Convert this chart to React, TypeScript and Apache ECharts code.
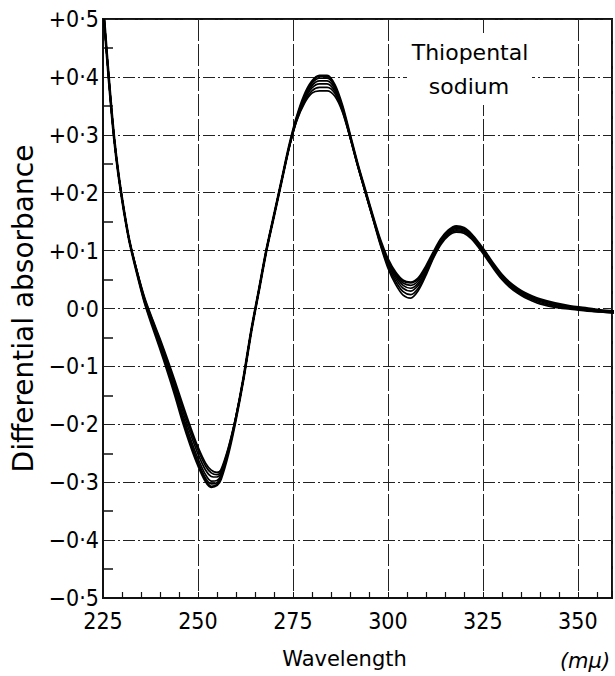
import React, { useEffect, useRef } from "react";
import * as echarts from "echarts";

const wavelengths = [
  225.3, 226, 227, 228, 229, 230, 231, 232,
  234, 236, 238, 240, 242, 244, 246, 248, 250, 252,
  253.5, 255, 256, 258, 260, 262, 264, 266, 268, 270,
  272, 274, 276, 278, 280, 282, 284, 286, 288, 290,
  292, 294, 296, 298, 300, 302, 304, 306, 308, 310,
  312, 314, 316, 318, 320, 322, 324, 326, 328, 330,
  332, 334, 336, 338, 340, 344, 348, 352, 356, 360,
];

const run1 = [
  0.5, 0.44, 0.36, 0.29, 0.235, 0.19, 0.15, 0.115,
  0.06, 0.01, -0.03, -0.068, -0.108, -0.15, -0.195, -0.235, -0.27, -0.298,
  -0.308, -0.305, -0.295, -0.25, -0.19, -0.12, -0.04, 0.03, 0.1, 0.16,
  0.22, 0.28, 0.33, 0.368, 0.392, 0.402, 0.402, 0.386, 0.35, 0.3,
  0.25, 0.205, 0.16, 0.118, 0.085, 0.062, 0.048, 0.045, 0.052, 0.072,
  0.097, 0.12, 0.135, 0.142, 0.139, 0.128, 0.112, 0.094, 0.075, 0.058,
  0.045, 0.035, 0.027, 0.021, 0.016, 0.009, 0.004, 0.001, -0.003, -0.005,
];
const run2 = [
  0.5, 0.44, 0.36, 0.29, 0.235, 0.19, 0.15, 0.115,
  0.06, 0.01, -0.028, -0.065, -0.105, -0.146, -0.19, -0.23, -0.265, -0.293,
  -0.303, -0.301, -0.292, -0.248, -0.19, -0.12, -0.04, 0.03, 0.1, 0.16,
  0.22, 0.28, 0.33, 0.366, 0.389, 0.398, 0.398, 0.384, 0.349, 0.3,
  0.25, 0.205, 0.16, 0.117, 0.083, 0.059, 0.044, 0.04, 0.048, 0.069,
  0.095, 0.119, 0.134, 0.14, 0.138, 0.127, 0.111, 0.093, 0.074, 0.057,
  0.044, 0.034, 0.026, 0.02, 0.015, 0.008, 0.003, 0.0, -0.004, -0.006,
];
const run3 = [
  0.5, 0.44, 0.36, 0.29, 0.235, 0.19, 0.15, 0.115,
  0.06, 0.012, -0.026, -0.062, -0.101, -0.141, -0.184, -0.224, -0.259, -0.287,
  -0.298, -0.297, -0.289, -0.246, -0.189, -0.12, -0.04, 0.03, 0.1, 0.16,
  0.22, 0.279, 0.328, 0.363, 0.385, 0.393, 0.393, 0.38, 0.347, 0.299,
  0.25, 0.204, 0.159, 0.116, 0.081, 0.056, 0.04, 0.035, 0.044, 0.066,
  0.093, 0.117, 0.132, 0.138, 0.136, 0.126, 0.11, 0.092, 0.073, 0.056,
  0.043, 0.033, 0.025, 0.019, 0.014, 0.007, 0.002, -0.001, -0.004, -0.006,
];
const run4 = [
  0.5, 0.44, 0.36, 0.29, 0.235, 0.19, 0.15, 0.115,
  0.062, 0.014, -0.023, -0.058, -0.096, -0.135, -0.177, -0.216, -0.251, -0.279,
  -0.29, -0.291, -0.285, -0.244, -0.188, -0.12, -0.04, 0.03, 0.1, 0.16,
  0.22, 0.279, 0.327, 0.36, 0.381, 0.388, 0.388, 0.376, 0.345, 0.298,
  0.249, 0.203, 0.158, 0.114, 0.078, 0.052, 0.035, 0.03, 0.04, 0.063,
  0.091, 0.115, 0.13, 0.136, 0.134, 0.124, 0.108, 0.09, 0.071, 0.054,
  0.041, 0.031, 0.023, 0.017, 0.012, 0.005, 0.001, -0.002, -0.005, -0.007,
];
const run5 = [
  0.5, 0.44, 0.36, 0.29, 0.235, 0.19, 0.15, 0.115,
  0.063, 0.016, -0.02, -0.055, -0.092, -0.13, -0.171, -0.209, -0.244, -0.272,
  -0.284, -0.287, -0.282, -0.242, -0.187, -0.12, -0.04, 0.03, 0.1, 0.16,
  0.22, 0.278, 0.325, 0.357, 0.376, 0.382, 0.382, 0.372, 0.342, 0.297,
  0.248, 0.202, 0.157, 0.112, 0.074, 0.047, 0.029, 0.024, 0.035, 0.06,
  0.089, 0.113, 0.128, 0.134, 0.132, 0.122, 0.106, 0.088, 0.069, 0.052,
  0.039, 0.029, 0.021, 0.015, 0.01, 0.004, 0.0, -0.003, -0.006, -0.008,
];
const run6 = [
  0.5, 0.44, 0.36, 0.29, 0.235, 0.19, 0.15, 0.115,
  0.064, 0.018, -0.018, -0.052, -0.088, -0.126, -0.166, -0.204, -0.239, -0.267,
  -0.279, -0.283, -0.279, -0.24, -0.186, -0.12, -0.04, 0.03, 0.1, 0.16,
  0.22, 0.278, 0.324, 0.354, 0.372, 0.376, 0.376, 0.367, 0.34, 0.296,
  0.247, 0.201, 0.156, 0.11, 0.07, 0.042, 0.023, 0.018, 0.031, 0.057,
  0.087, 0.111, 0.126, 0.132, 0.13, 0.12, 0.104, 0.086, 0.067, 0.05,
  0.037, 0.027, 0.019, 0.013, 0.008, 0.002, -0.001, -0.004, -0.006, -0.008,
];

const runs = [run1, run2, run3, run4, run5, run6];
const runNames = ["Run 1", "Run 2", "Run 3", "Run 4", "Run 5", "Run 6"];

const xTitle = "Wavelength";
const xUnit = "(mμ)";
const yTitle = "Differential absorbance";
const noteLines = ["Thiopental", "sodium"];

const tickFont = "'Liberation Sans Narrow', 'DejaVu Sans Condensed', 'Liberation Sans', sans-serif";
const titleFont = "'DejaVu Sans', sans-serif";

export default function App() {
  const ref = useRef<HTMLDivElement>(null);

  useEffect(() => {
    if (!ref.current) return;
    const chart = echarts.init(ref.current, null, { renderer: "svg" });
    chart.setOption({
      animation: false,
      backgroundColor: "#fff",
      grid: {
        left: 103,
        top: 19,
        right: 3,
        bottom: 78,
        show: true,
        borderColor: "#111",
        borderWidth: 2,
        backgroundColor: "transparent",
      },
      xAxis: {
        type: "value",
        min: 225,
        max: 359,
        interval: 25,
        name: xTitle,
        nameLocation: "middle",
        nameGap: 50,
        nameTextStyle: {
          fontFamily: titleFont,
          fontSize: 21,
          color: "#000",
          padding: [0, 26, 0, 0],
        },
        axisLine: { show: true, onZero: false, lineStyle: { color: "#111", width: 2 } },
        axisTick: { show: true, inside: true, length: 6, lineStyle: { color: "#111" } },
        minorTick: { show: true, splitNumber: 5, length: 6, lineStyle: { color: "#111", width: 1.2 } },
        axisLabel: {
          showMaxLabel: false,
          margin: 11,
          fontFamily: tickFont,
          fontSize: 23,
          color: "#000",
        },
        splitLine: {
          show: true,
          lineStyle: { color: "#222", width: 1, type: [22, 3] },
        },
      },
      yAxis: {
        type: "value",
        min: -0.5,
        max: 0.5,
        interval: 0.1,
        name: yTitle,
        nameLocation: "middle",
        nameGap: 62,
        nameTextStyle: {
          fontFamily: titleFont,
          fontSize: 28,
          color: "#000",
        },
        axisLine: { show: true, onZero: false, lineStyle: { color: "#111", width: 2 } },
        axisTick: { show: false, inside: true },
        minorTick: { show: true, splitNumber: 2, length: 10, lineStyle: { color: "#111", width: 1.5 } },
        axisLabel: {
          margin: 4,
          fontFamily: tickFont,
          fontSize: 23,
          color: "#000",
          formatter: (v: number) => {
            const r = Math.round(v * 10);
            if (r === 0) return "0·0";
            return (r > 0 ? "+" : "−") + "0·" + Math.abs(r);
          },
        },
        splitLine: {
          show: true,
          lineStyle: { color: "#222", width: 1, type: [12, 3, 2, 3] },
        },
      },
      graphic: [
        {
          type: "rect",
          z: 1,
          shape: { x: 407, y: 33, width: 125, height: 72 },
          style: { fill: "#fff" },
        },
        {
          type: "text",
          z: 5,
          x: 470,
          y: 52,
          style: {
            text: noteLines[0],
            fontFamily: titleFont,
            fontSize: 22,
            fill: "#000",
            textAlign: "center",
            textVerticalAlign: "middle",
          },
        },
        {
          type: "text",
          z: 5,
          x: 469,
          y: 86,
          style: {
            text: noteLines[1],
            fontFamily: titleFont,
            fontSize: 22,
            fill: "#000",
            textAlign: "center",
            textVerticalAlign: "middle",
          },
        },
        {
          type: "text",
          z: 5,
          x: 585,
          y: 661,
          style: {
            text: xUnit,
            fontFamily: titleFont,
            fontSize: 21,
            fontStyle: "italic",
            fill: "#000",
            textAlign: "center",
            textVerticalAlign: "middle",
          },
        },
      ],
      series: runs.map((r, i) => ({
        name: runNames[i],
        type: "line",
        data: wavelengths.map((w, j) => [w, r[j]]),
        showSymbol: false,
        smooth: 0.3,
        z: 3,
        lineStyle: { color: "#000", width: i === 0 ? 2.6 : 1.7 },
      })),
    });
    return () => chart.dispose();
  }, []);

  return (
    <div
      ref={ref}
      style={{ position: "fixed", left: 0, top: 0, width: 615, height: 676, background: "#fff" }}
    />
  );
}
